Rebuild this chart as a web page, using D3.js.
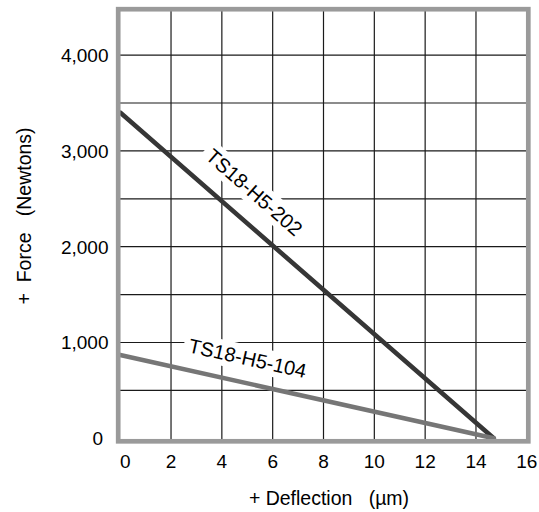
<!DOCTYPE html>
<html>
<head>
<meta charset="utf-8">
<script src="https://cdn.jsdelivr.net/npm/d3@7"></script>
<style>
  html, body { margin: 0; padding: 0; background: #fff; }
  svg { display: block; font-family: "Liberation Sans", Arial, Helvetica, sans-serif; }
</style>
</head>
<body>
<svg id="chart" width="539" height="512"></svg>
<script>
// ---- data ----
const xTicks = [0, 2, 4, 6, 8, 10, 12, 14, 16];
const yTicks = [0, 1000, 2000, 3000, 4000];
const yGrid = [500, 1000, 1500, 2000, 2500, 3000, 3500, 4000];
const xGrid = [2, 4, 6, 8, 10, 12, 14];
const seriesNames = ["TS18-H5-202", "TS18-H5-104"];
const deflection202 = [0, 14.7];
const force202 = [3400, 0];
const deflection104 = [0, 14.7];
const force104 = [870, 0];
const xTitle = "+ Deflection\u00a0\u00a0\u00a0(\u00b5m)";
const yTitle = "+\u00a0\u00a0Force\u00a0\u00a0\u00a0(Newtons)";

const svg = d3.select("#chart");
const x = d3.scaleLinear().domain([0, 16]).range([120.2, 526.8]);
const y = d3.scaleLinear().domain([0, 4500]).range([438.3, 7.2]);

const fmt = d3.format(",");

// grid
const g = svg.append("g");
g.selectAll("line.vg").data(xGrid).join("line")
  .attr("x1", d => x(d)).attr("x2", d => x(d))
  .attr("y1", y(4500)).attr("y2", y(0) + 3)
  .attr("stroke", "#1a1a1a").attr("stroke-width", 1.2);
g.selectAll("line.hg").data(yGrid).join("line")
  .attr("y1", d => y(d)).attr("y2", d => y(d))
  .attr("x1", x(0) - 2).attr("x2", x(16) + 1.5)
  .attr("stroke", "#1a1a1a").attr("stroke-width", 1.2);

// series
const series = [
  { name: seriesNames[0], xs: deflection202, ys: force202, color: "#363636", at: 4.55, off: -21 },
  { name: seriesNames[1], xs: deflection104, ys: force104, color: "#767676", at: 4.8, off: -17.5 }
];

// labels (with white backgrounds that break the grid)
series.forEach(s => {
  const p0 = [x(s.xs[0]), y(s.ys[0])], p1 = [x(s.xs[1]), y(s.ys[1])];
  const ang = Math.atan2(p1[1] - p0[1], p1[0] - p0[0]) * 180 / Math.PI;
  const t = (s.at - s.xs[0]) / (s.xs[1] - s.xs[0]);
  const val = s.ys[0] + t * (s.ys[1] - s.ys[0]);
  const lg = svg.append("g")
    .attr("transform", `translate(${x(s.at)},${y(val)}) rotate(${ang})`);
  const rect = lg.append("rect").attr("fill", "#fff");
  const txt = lg.append("text")
    .attr("text-anchor", "middle")
    .attr("y", s.off)
    .attr("font-size", 20)
    .attr("fill", "#000")
    .text(s.name);
  const bb = txt.node().getBBox();
  rect.attr("x", bb.x - 5).attr("y", bb.y - 2)
    .attr("width", bb.width + 10).attr("height", bb.height + 4);
});

const line = d3.line().x(d => x(d[0])).y(d => y(d[1]));
series.forEach(s => {
  svg.append("path")
    .datum(s.xs.map((v, i) => [v, s.ys[i]]))
    .attr("d", line)
    .attr("fill", "none")
    .attr("stroke", s.color)
    .attr("stroke-width", 4.6)
    .attr("stroke-linecap", "round");
});

// frame
svg.append("rect")
  .attr("x", x(0) - 2).attr("y", y(4500) + 2)
  .attr("width", (x(16) + 1.5) - (x(0) - 2))
  .attr("height", (y(0) + 3) - (y(4500) + 2))
  .attr("fill", "none").attr("stroke", "#9a9a9a").attr("stroke-width", 4.7);

// x tick labels
svg.append("g").selectAll("text").data(xTicks).join("text")
  .attr("x", d => x(d) + (d === 0 ? 5 : 0))
  .attr("y", 468)
  .attr("text-anchor", "middle")
  .attr("font-size", 19)
  .attr("fill", "#000")
  .text(d => d);

// y tick labels
svg.append("g").selectAll("text").data(yTicks).join("text")
  .attr("x", d => d === 0 ? 103 : 108.5)
  .attr("y", d => y(d))
  .attr("dy", "0.36em")
  .attr("text-anchor", "end")
  .attr("font-size", 19)
  .attr("fill", "#000")
  .text(d => fmt(d));

// axis titles
svg.append("text")
  .attr("x", 329).attr("y", 505)
  .attr("text-anchor", "middle")
  .attr("font-size", 19.5)
  .attr("fill", "#000")
  .text(xTitle);

svg.append("text")
  .attr("transform", "translate(31,216) rotate(-90)")
  .attr("text-anchor", "middle")
  .attr("font-size", 19.5)
  .attr("fill", "#000")
  .text(yTitle);
</script>
</body>
</html>
